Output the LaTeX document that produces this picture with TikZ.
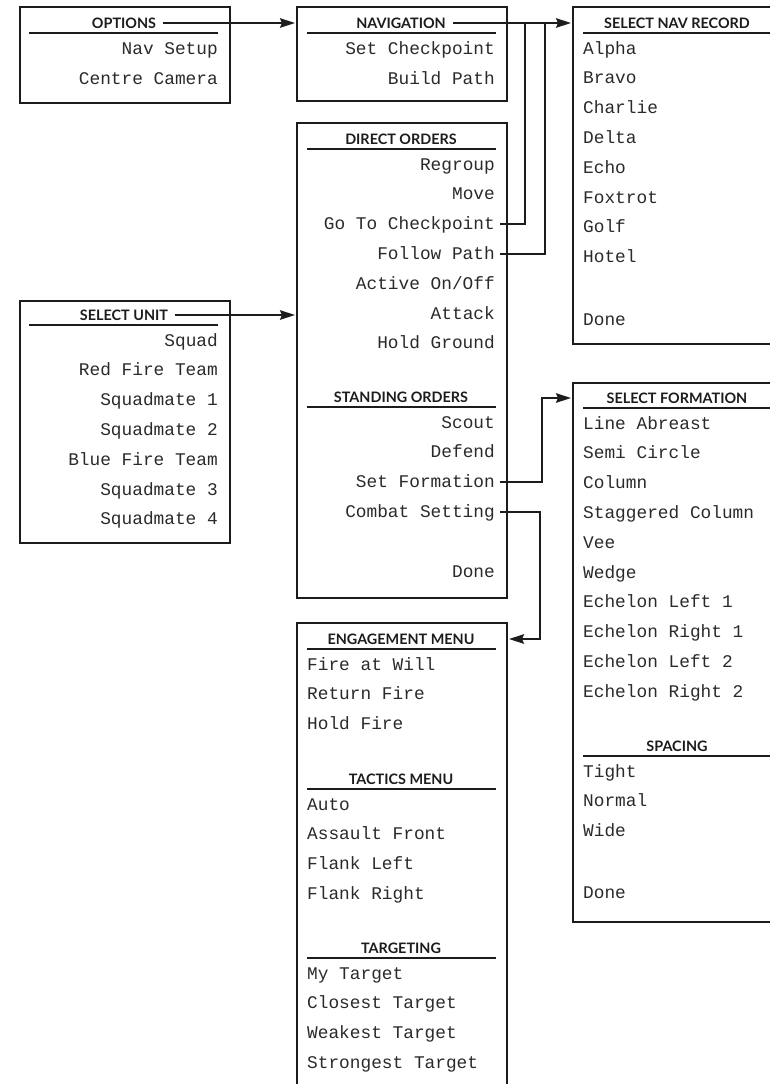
\documentclass[tikz,border=0pt]{standalone}
\usepackage{fontspec}
\newfontfamily\itemfont{Liberation Mono}
\newfontfamily\headfont{Lato}
\usetikzlibrary{arrows.meta}
\definecolor{ink}{HTML}{1C1C1C}
\definecolor{txt}{HTML}{2A2A2A}
\begin{document}
\begin{tikzpicture}[x=1pt,y=-1pt,
  box/.style={draw=ink,line width=2pt,inner sep=0pt,anchor=north west,minimum width=210pt},
  hdr/.style={font=\headfont\bfseries\fontsize{14.4}{15}\selectfont,text=ink,inner xsep=7pt,inner ysep=0pt,text height=10pt,text depth=0pt,anchor=base},
  itemR/.style={font=\itemfont\fontsize{17.8}{20}\selectfont,text=txt,inner xsep=5pt,inner ysep=0pt,text height=11pt,text depth=0pt,anchor=base east},
  itemL/.style={itemR,anchor=base west},
  uline/.style={draw=ink,line width=1.6pt},
  conn/.style={draw=ink,line width=2pt},
  arr/.style={conn,-{Stealth[length=15pt,width=9.5pt,inset=2pt]},shorten >=1pt}]

\useasboundingbox (0,0) rectangle (770,1084);
\clip (0,0) rectangle (770,1084);

% ---------- boxes ----------
\node[box,minimum height=96pt]  (optB)  at (19,6)   {};
\node[box,minimum height=94pt]  (navB)  at (296,6)  {};
\node[box,minimum height=337pt] (recB)  at (572,6)  {};
\node[box,minimum height=475pt] (dirB)  at (296,122) {};
\node[box,minimum height=242pt] (unitB) at (19,300) {};
\node[box,minimum height=539pt] (formB) at (572,382) {};
\node[box,minimum height=520pt] (engB)  at (296,622) {};

% ---------- OPTIONS ----------
\node[hdr] (optH) at (124,28) {OPTIONS};
\draw[uline] (29,33) -- (218,33);
\node[itemR] (opt0) at (223,54) {Nav Setup};
\node[itemR] (opt1) at (223,84) {Centre Camera};

% ---------- NAVIGATION ----------
\node[hdr] (navH) at (401,28) {NAVIGATION};
\draw[uline] (307,33) -- (496,33);
\node[itemR] (nav0) at (500,54) {Set Checkpoint};
\node[itemR] (nav1) at (500,84) {Build Path};

% ---------- SELECT NAV RECORD ----------
\node[hdr] (recH) at (677,28) {SELECT NAV RECORD};
\draw[uline] (583,33) -- (771,33);
\foreach \t [count=\i from 0] in {Alpha,Bravo,Charlie,Delta,Echo,Foxtrot,Golf,Hotel}
  \node[itemL] (rec\i) at (578,{54+29.8*\i}) {\t};
\node[itemL] (recDone) at (578,325) {Done};

% ---------- DIRECT / STANDING ORDERS ----------
\node[hdr] (dirH) at (401,144) {DIRECT ORDERS};
\draw[uline] (307,149) -- (496,149);
\foreach \t [count=\i from 0] in {Regroup,Move,Go To Checkpoint,Follow Path,Active On/Off,Attack,Hold Ground}
  \node[itemR] (dir\i) at (500,{170+29.8*\i}) {\t};
\node[hdr] (stdH) at (401,402) {STANDING ORDERS};
\draw[uline] (307,407) -- (496,407);
\foreach \t [count=\i from 0] in {Scout,Defend,Set Formation,Combat Setting}
  \node[itemR] (std\i) at (500,{428+29.8*\i}) {\t};
\node[itemR] (dirDone) at (500,577) {Done};

% ---------- SELECT UNIT ----------
\node[hdr] (unitH) at (124,320) {SELECT UNIT};
\draw[uline] (29,325) -- (218,325);
\foreach \t [count=\i from 0] in {Squad,Red Fire Team,Squadmate 1,Squadmate 2,Blue Fire Team,Squadmate 3,Squadmate 4}
  \node[itemR] (unit\i) at (223,{346+29.8*\i}) {\t};

% ---------- SELECT FORMATION ----------
\node[hdr] (formH) at (677,403) {SELECT FORMATION};
\draw[uline] (583,408) -- (771,408);
\foreach \t [count=\i from 0] in {Line Abreast,Semi Circle,Column,Staggered Column,Vee,Wedge,Echelon Left 1,Echelon Right 1,Echelon Left 2,Echelon Right 2}
  \node[itemL] (form\i) at (578,{429+29.8*\i}) {\t};
\node[hdr] (spcH) at (677,751) {SPACING};
\draw[uline] (583,756) -- (771,756);
\foreach \t [count=\i from 0] in {Tight,Normal,Wide}
  \node[itemL] (spc\i) at (578,{777+29.8*\i}) {\t};
\node[itemL] (formDone) at (578,898) {Done};

% ---------- ENGAGEMENT / TACTICS / TARGETING ----------
\node[hdr] (engH) at (401,644) {ENGAGEMENT MENU};
\draw[uline] (307,649) -- (496,649);
\foreach \t [count=\i from 0] in {Fire at Will,Return Fire,Hold Fire}
  \node[itemL] (eng\i) at (302,{670+29.8*\i}) {\t};
\node[hdr] (tacH) at (401,784) {TACTICS MENU};
\draw[uline] (307,789) -- (496,789);
\foreach \t [count=\i from 0] in {Auto,Assault Front,Flank Left,Flank Right}
  \node[itemL] (tac\i) at (302,{810+29.8*\i}) {\t};
\node[hdr] (tgtH) at (401,953) {TARGETING};
\draw[uline] (307,958) -- (496,958);
\foreach \t [count=\i from 0] in {My Target,Closest Target,Weakest Target,Strongest Target}
  \node[itemL] (tgt\i) at (302,{979+29.8*\i}) {\t};

% ---------- connectors ----------
\coordinate (j1) at (525,0);
\coordinate (j2) at (545,0);
\coordinate (j3) at (542,0);
\coordinate (j4) at (540,0);

\draw[arr] (optH.east) -- (optH.east -| navB.west);
\draw[arr] (navH.east) -- (navH.east -| recB.west);
\draw[conn] (dir2.east) -| (j1 |- navH.east);
\draw[conn] (dir3.east) -| (j2 |- navH.east);
\draw[arr] (unitH.east) -- (unitH.east -| dirB.west);
\draw[arr] (std2.east) -| (j3 |- formH.east) -- (formB.west |- formH.east);
\draw[arr] (std3.east) -| (j4 |- engH.east) -- (engB.east |- engH.east);
\end{tikzpicture}
\end{document}
